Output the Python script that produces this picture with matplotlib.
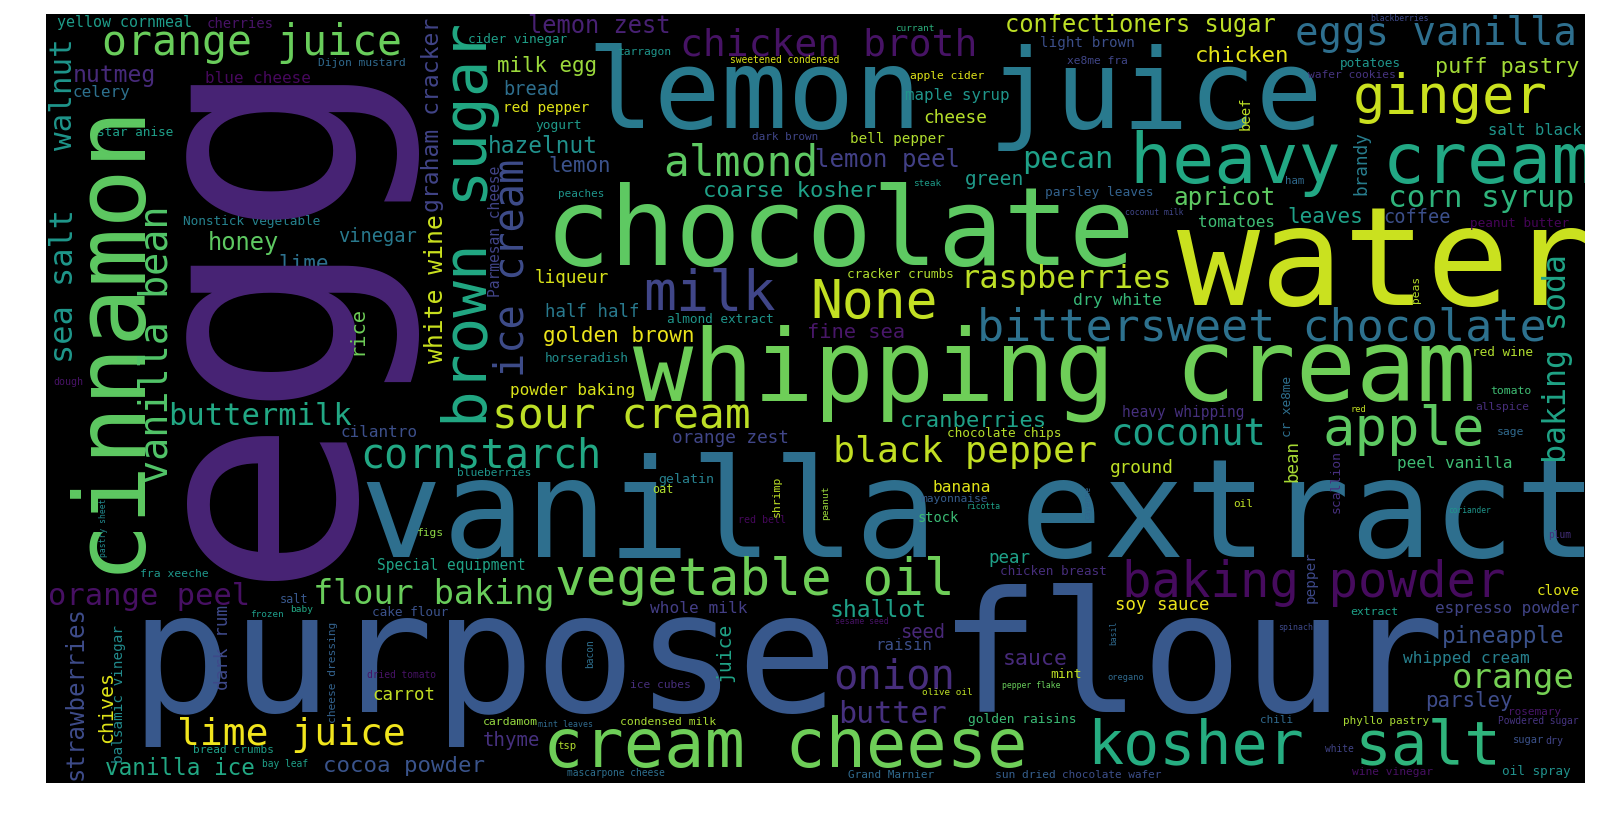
import matplotlib
matplotlib.use("Agg")
import matplotlib.pyplot as plt

# Word cloud of recipe ingredients. Sizes are font heights in pixels,
# shades are positions on the viridis colour map.

# horizontal words
H_WORDS = [
    "purpose flour", "vanilla extract", "water", "chocolate", "whipping cream",
    "lemon juice", "cream cheese", "kosher", "salt", "heavy cream",
    "ginger", "apple", "vegetable oil", "baking powder", "None",
    "milk", "bittersweet chocolate", "sour cream", "almond", "orange juice",
    "onion", "cornstarch", "eggs vanilla", "chicken broth", "lime juice",
    "coconut", "black pepper", "orange", "flour baking", "raspberries",
    "corn syrup", "orange peel", "buttermilk", "pecan", "butter",
    "confectioners sugar", "lemon peel", "lemon zest", "apricot", "shallot",
    "honey", "hazelnut", "nutmeg", "vanilla ice", "pineapple",
    "chicken", "cocoa powder", "coarse kosher", "cranberries", "puff pastry",
    "sauce", "golden brown", "leaves", "milk egg", "lemon",
    "parsley", "lime", "fine sea", "green", "thyme",
    "vinegar", "seed", "bread", "coffee", "cheese",
    "ground", "half half", "orange zest", "liqueur", "pear",
    "carrot", "soy sauce", "dry white", "banana", "whole milk",
    "whipped cream", "cilantro", "peel vanilla", "powder baking", "espresso powder",
    "tomatoes", "celery", "blue cheese", "maple syrup", "raisin",
    "salt black", "yellow cornmeal", "Special equipment", "heavy whipping", "red pepper",
    "light brown", "bell pepper", "clove", "cherries", "stock",
    "gelatin", "mint", "golden raisins", "parsley leaves", "yogurt",
    "red wine", "potatoes", "cider vinegar", "almond extract", "horseradish",
    "Nonstick vegetable", "cracker crumbs", "oil spray", "cake flour", "star anise",
    "chocolate chips", "peanut butter", "chicken breast", "tomato", "extract",
    "cardamom", "condensed milk", "sage", "fra xeeche", "oat",
    "salt", "Dijon mustard", "mayonnaise", "sun dried", "xe8me fra",
    "ice cubes", "wine vinegar", "allspice", "wafer cookies", "blueberries",
    "apple cider", "tarragon", "peaches", "dark brown", "Grand Marnier",
    "chocolate wafer", "rosemary", "chili", "phyllo pastry", "oil",
    "bread crumbs", "figs", "ham", "tsp", "sugar",
    "dry", "red bell", "dough", "mascarpone cheese", "sweetened condensed",
    "dried tomato", "white", "bay leaf", "Powdered sugar", "plum",
    "baby", "frozen", "olive oil", "currant", "steak",
    "red", "oregano", "mint leaves", "spinach", "pepper flake",
    "sesame seed", "coconut milk", "blackberries", "ricotta", "coriander",
]
H_SIZE = [
    168, 137, 138, 109, 100,
    111, 67, 60, 61, 70,
    54, 54, 51, 49, 53,
    55, 45, 43, 43, 41.5,
    40.5, 40, 39, 38, 38,
    37, 36.5, 34, 33.5, 32,
    31, 30.5, 30.5, 30.4, 30,
    23.7, 24, 23.7, 24.2, 23,
    23.8, 22.8, 23, 22.6, 22.6,
    22.5, 22.4, 22.3, 22.3, 21.8,
    21.5, 21, 21, 20.8, 20.8,
    20.8, 21, 20.4, 19.7, 19,
    18.8, 18.8, 18.7, 18.6, 17.8,
    17.8, 17.4, 17.7, 17.6, 17.5,
    17.4, 17.4, 16.4, 16.3, 16.1,
    16.1, 16, 16, 16, 16,
    16, 16, 16, 15.8, 15.8,
    15.6, 15, 14.5, 14.5, 14.4,
    14.3, 14.3, 14.2, 14, 13.8,
    13.2, 13, 12.9, 12.9, 12.9,
    12.8, 12.8, 12.8, 12.8, 12.8,
    12.8, 12.8, 12.8, 12.7, 12.7,
    12.7, 12.7, 12.6, 11.5, 11.5,
    11.5, 11.4, 11.4, 11.4, 11.8,
    11.7, 11.3, 11.3, 11.3, 11.3,
    11.3, 11.3, 11.3, 11.3, 11.2,
    11.2, 11.3, 11, 11, 11,
    11, 11, 11, 11, 11,
    11.1, 11.3, 10.6, 10.6, 10.4,
    10, 10, 10, 9.7, 9.7,
    9.6, 9.7, 9.6, 9.6, 9.6,
    9.5, 9.4, 9.4, 9.3, 9.3,
    8.8, 8.6, 8.3, 8.3, 8.2,
    8.2, 8.2, 8.2, 8, 7.9,
]
H_SHADE = [
    0.27, 0.36, 0.92, 0.75, 0.78,
    0.41, 0.78, 0.62, 0.65, 0.6,
    0.92, 0.75, 0.78, 0.03, 0.91,
    0.21, 0.37, 0.9, 0.75, 0.77,
    0.13, 0.6, 0.36, 0.05, 0.98,
    0.57, 0.91, 0.79, 0.77, 0.9,
    0.65, 0.04, 0.6, 0.57, 0.14,
    0.9, 0.19, 0.09, 0.75, 0.57,
    0.75, 0.5, 0.12, 0.6, 0.25,
    0.96, 0.26, 0.57, 0.57, 0.86,
    0.12, 0.97, 0.57, 0.85, 0.25,
    0.23, 0.37, 0.06, 0.54, 0.14,
    0.41, 0.11, 0.36, 0.24, 0.89,
    0.9, 0.41, 0.21, 0.94, 0.57,
    0.91, 0.97, 0.67, 0.95, 0.18,
    0.43, 0.24, 0.69, 0.94, 0.2,
    0.69, 0.37, 0.02, 0.52, 0.24,
    0.52, 0.55, 0.58, 0.14, 0.95,
    0.24, 0.88, 0.95, 0.05, 0.68,
    0.43, 0.9, 0.68, 0.31, 0.54,
    0.88, 0.52, 0.56, 0.52, 0.49,
    0.44, 0.88, 0.5, 0.25, 0.56,
    0.89, 0.01, 0.13, 0.69, 0.57,
    0.84, 0.87, 0.34, 0.53, 0.88,
    0.27, 0.34, 0.29, 0.3, 0.21,
    0.13, 0.04, 0.13, 0.15, 0.52,
    0.95, 0.52, 0.52, 0.21, 0.34,
    0.24, 0.06, 0.34, 0.87, 0.9,
    0.56, 0.83, 0.34, 0.88, 0.25,
    0.2, 0.02, 0.05, 0.36, 0.94,
    0.05, 0.2, 0.56, 0.15, 0.14,
    0.6, 0.55, 0.9, 0.64, 0.55,
    0.91, 0.34, 0.34, 0.22, 0.77,
    0.05, 0.21, 0.22, 0.57, 0.52,
]

# layout of the horizontal words: left edge and baseline, in canvas pixels
H_X = [
    130, 360, 1177, 545, 633,
    587, 543, 1087, 1355, 1130,
    1353, 1323, 555, 1122, 810,
    643, 977, 492, 663, 102,
    833, 360, 1295, 680, 177,
    1110, 833, 1452, 313, 960,
    1388, 48, 168, 1022, 838,
    1005, 815, 528, 1173, 830,
    208, 488, 73, 105, 1442,
    1195, 323, 703, 900, 1435,
    1003, 543, 1287, 497, 548,
    1425, 278, 807, 965, 483,
    338, 900, 503, 1383, 923,
    1110, 545, 672, 535, 988,
    372, 1115, 1073, 933, 650,
    1403, 340, 1397, 510, 1435,
    1198, 73, 205, 905, 875,
    1488, 57, 377, 1122, 503,
    1040, 850, 1537, 207, 918,
    658, 1050, 968, 1045, 535,
    1472, 1340, 468, 667, 545,
    183, 847, 1502, 372, 97,
    947, 1470, 1000, 1490, 1350,
    483, 620, 1497, 140, 652,
    280, 318, 920, 995, 1067,
    630, 1352, 1475, 1308, 457,
    910, 617, 558, 752, 848,
    1062, 1508, 1260, 1343, 1233,
    193, 417, 1285, 557, 1513,
    1545, 738, 53, 567, 730,
    367, 1325, 262, 1498, 1548,
    290, 250, 922, 895, 913,
    1350, 1107, 538, 1278, 1002,
    835, 1125, 1370, 967, 1448,
]
H_Y = [
    712, 557, 305, 265, 400,
    128, 767, 763, 763, 183,
    113, 445, 595, 597, 318,
    310, 340, 428, 175, 55,
    688, 467, 45, 55, 745,
    445, 462, 688, 604, 288,
    207, 605, 425, 168, 723,
    32, 167, 33, 205, 617,
    250, 153, 82, 775, 643,
    62, 772, 197, 427, 73,
    665, 342, 223, 72, 172,
    707, 270, 338, 185, 746,
    242, 638, 95, 223, 123,
    473, 317, 443, 283, 563,
    700, 610, 305, 492, 613,
    663, 437, 468, 395, 613,
    227, 97, 83, 100, 650,
    135, 27, 570, 417, 112,
    47, 143, 595, 28, 522,
    483, 678, 723, 196, 129,
    356, 67, 43, 323, 362,
    225, 278, 775, 616, 136,
    437, 227, 575, 394, 615,
    725, 725, 435, 577, 493,
    603, 66, 502, 778, 64,
    688, 775, 410, 78, 476,
    79, 55, 197, 140, 778,
    778, 715, 723, 724, 507,
    753, 536, 184, 749, 743,
    744, 523, 385, 776, 63,
    678, 752, 767, 724, 538,
    612, 617, 695, 31, 186,
    412, 680, 727, 630, 688,
    624, 215, 21, 509, 513,
]

# vertical words (read bottom to top)
V_WORDS = [
    "egg", "cinnamon", "brown sugar", "ice cream", "vanilla bean",
    "sea salt", "baking soda", "walnut", "white wine", "strawberries",
    "graham cracker", "rice", "chives", "juice", "brandy",
    "dark rum", "bean", "pepper", "Parmesan cheese", "balsamic vinegar",
    "beef", "scallion", "cr xe8me", "shrimp", "peas",
    "cheese dressing", "bacon", "peanut", "pastry sheet", "basil",
    "cayenne",
]
V_SIZE = [300, 98.5, 61, 40.4, 38.5, 32, 31.7, 31, 24.7, 24,
          23, 20.4, 20, 19.7, 17.8, 17.7, 17.5, 14.3, 14.6, 14.3,
          14, 13, 12.8, 11.5, 11.3, 11.3, 9.7, 9.5, 8, 8, 8]
V_SHADE = [0.1, 0.75, 0.6, 0.23, 0.73, 0.53, 0.58, 0.52, 0.92, 0.23,
           0.2, 0.78, 0.95, 0.58, 0.42, 0.22, 0.87, 0.22, 0.2, 0.48,
           0.9, 0.14, 0.36, 0.9, 0.89, 0.31, 0.36, 0.85, 0.47, 0.34, 0.33]
# layout: baseline x and bottom end of the word, in canvas pixels
V_X = [338, 137, 487, 523, 168, 73, 1566, 72, 443, 83,
       439, 362, 112, 730, 1366, 228, 1297, 1315, 500, 123,
       1250, 1340, 1291, 780, 1419, 336, 593, 828, 106, 1116, 1090]
V_Y = [580, 573, 427, 377, 483, 363, 463, 150, 363, 780,
       212, 355, 743, 682, 195, 690, 482, 603, 297, 763,
       130, 513, 437, 517, 303, 723, 668, 520, 557, 645, 520]

for group in (H_SIZE, H_SHADE, H_X, H_Y):
    assert len(group) == len(H_WORDS)
for group in (V_SIZE, V_SHADE, V_X, V_Y):
    assert len(group) == len(V_WORDS)

DPI = 100
FONT = "DejaVu Sans Mono"
CANVAS = (46, 1585, 14, 783)  # left, right, top, bottom in output pixels
W, H = 1614, 818

fig = plt.figure(figsize=(W / DPI, H / DPI), dpi=DPI)
left, right, top, bottom = CANVAS
ax = fig.add_axes([left / W, 1 - bottom / H, (right - left) / W, (bottom - top) / H])
ax.set_facecolor("black")
ax.set_xlim(left, right)
ax.set_ylim(bottom, top)
ax.set_xticks([])
ax.set_yticks([])
for s in ax.spines.values():
    s.set_visible(False)

cmap = plt.cm.viridis
px_to_pt = 72 / DPI

for word, size, shade, x, y in zip(H_WORDS, H_SIZE, H_SHADE, H_X, H_Y):
    ax.text(x, y, word, fontsize=size * px_to_pt, color=cmap(shade),
            family=FONT, ha="left", va="baseline", clip_on=True)

for word, size, shade, x, y in zip(V_WORDS, V_SIZE, V_SHADE, V_X, V_Y):
    ax.text(x, y, word, fontsize=size * px_to_pt, color=cmap(shade),
            family=FONT, ha="left", va="baseline", rotation=90,
            rotation_mode="anchor", clip_on=True)

fig.savefig("out.png", dpi=DPI)
